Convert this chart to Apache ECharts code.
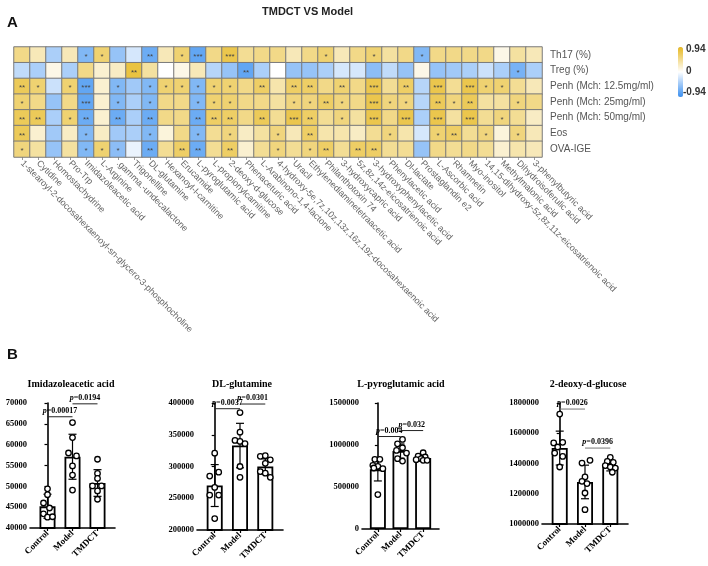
<!DOCTYPE html>
<html>
<head>
<meta charset="utf-8">
<script src="https://cdn.jsdelivr.net/npm/echarts@6/dist/echarts.min.js"></script>
<style>
html, body { margin: 0; padding: 0; background: #fff; }
#main { width: 708px; height: 566px; }
</style>
</head>
<body>
<div id="main"></div>
<script>
// ---- panel A: correlation heatmap ----
var metabolites = ['1-stearoyl-2-docosahexaenoyl-sn-glycero-3-phosphocholine', 'Cytidine', 'Homostachydrine', 'Pro-Trp',
  'Imidazoleacetic acid', 'L-Arginine', '.gamma.-undecalactone', 'Trigonelline', 'DL-glutamine', 'Hexanoyl-l-carnitine',
  'Erucamide', 'L-pyroglutamic acid', 'L-propionylcarnitine', '2-deoxy-d-glucose', 'Phenaceturic acid',
  'L-Arabinono-1,4-lactone', '4-hydroxy-5e,7z,10z,13z,16z,19z-docosahexaenoic acid', 'Uracil',
  'Ethylenediaminetetraacetic acid', 'Philanthotoxin 74', '3-hydroxycapric acid', '5z,8z,14z-eicosatrienoic acid',
  '3-hydroxyphenylacetic acid', 'Phenylacetic acid', 'Dl-lactate', 'Prostaglandin e2', 'L-Ascorbic acid', 'Rhamnetin',
  'Myo-inositol', '14,15-dihydroxy-5z,8z,11z-eicosatrienoic acid', 'Methylmalonic acid', 'Dihydroisoferulic acid',
  '3-phenylbutyric acid'];
var traits = ['Th17 (%)', 'Treg (%)', 'Penh (Mch: 12.5mg/ml)', 'Penh (Mch: 25mg/ml)', 'Penh (Mch: 50mg/ml)', 'Eos', 'OVA-IGE'];

var corr = [
  [0.5, 0.3, -0.4, 0.3, -0.6, 0.6, -0.5, -0.2, -0.7, 0.3, 0.6, -0.75, 0.5, 0.75, 0.45, 0.5, 0.5, 0.3, 0.5, 0.6, 0.3, 0.5, 0.6, 0.4, 0.5, -0.6, 0.5, 0.5, 0.5, 0.5, 0.1, 0.4, 0.3],
  [-0.3, -0.4, 0.1, -0.4, 0.5, 0.2, 0.25, 0.8, 0.4, 0, 0.1, 0.3, -0.35, -0.5, -0.75, -0.4, 0, -0.5, -0.5, -0.4, -0.2, -0.2, -0.55, -0.3, -0.5, 0.1, -0.5, -0.45, -0.4, -0.25, -0.4, -0.65, -0.4],
  [0.7, 0.6, -0.25, 0.6, -0.75, 0.2, -0.6, -0.45, -0.6, 0.6, 0.6, -0.6, 0.6, 0.6, 0.5, 0.65, 0.35, 0.65, 0.65, 0.5, 0.6, 0.5, 0.75, 0.45, 0.65, -0.35, 0.75, 0.45, 0.75, 0.6, 0.6, 0.45, 0.3],
  [0.6, 0.5, -0.5, 0.5, -0.75, 0.2, -0.6, -0.4, -0.6, 0.5, 0.5, -0.6, 0.6, 0.6, 0.5, 0.5, 0.4, 0.55, 0.55, 0.65, 0.55, 0.5, 0.75, 0.55, 0.55, -0.35, 0.7, 0.55, 0.7, 0.4, 0.4, 0.55, 0.5],
  [0.7, 0.7, -0.4, 0.6, -0.7, 0.2, -0.7, -0.4, -0.7, 0.5, 0.5, -0.7, 0.65, 0.65, 0.5, 0.7, 0.45, 0.75, 0.65, 0.45, 0.55, 0.4, 0.75, 0.5, 0.75, -0.4, 0.75, 0.4, 0.75, 0.45, 0.55, 0.45, 0.25],
  [0.7, 0.2, -0.45, 0.25, -0.6, 0.25, -0.45, -0.4, -0.6, 0.15, 0.5, -0.6, 0.45, 0.55, 0.25, 0.4, 0.55, 0.3, 0.65, 0.35, 0.35, 0.25, 0.45, 0.55, 0.35, -0.2, 0.6, 0.65, 0.45, 0.55, 0.15, 0.55, 0.3],
  [0.55, 0.4, -0.5, 0.4, -0.6, 0.6, -0.55, -0.1, -0.7, 0.45, 0.65, -0.7, 0.45, 0.65, 0.2, 0.45, 0.55, 0.45, 0.55, 0.65, 0.45, 0.65, 0.65, 0.45, 0.45, -0.5, 0.5, 0.45, 0.5, 0.45, 0.2, 0.35, 0.3]
];
// number of significance stars per cell
var stars = [
  [0,0,0,0,1,1,0,0,2,0,1,3,0,3,0,0,0,0,0,1,0,0,1,0,0,1,0,0,0,0,0,0,0],
  [0,0,0,0,0,0,0,2,0,0,0,0,0,0,2,0,0,0,0,0,0,0,0,0,0,0,0,0,0,0,0,1,0],
  [2,1,0,1,3,0,1,0,1,1,1,1,1,1,0,2,0,2,2,0,2,0,3,0,2,0,3,0,3,1,1,0,0],
  [1,0,0,0,3,0,1,0,1,0,0,1,1,1,0,0,0,1,1,2,1,0,3,1,1,0,2,1,2,0,0,1,0],
  [2,2,0,1,2,0,2,0,2,0,0,2,2,2,0,2,0,3,2,0,1,0,3,0,3,0,3,0,3,0,1,0,0],
  [2,0,0,0,1,0,0,0,1,0,0,1,0,1,0,0,1,0,2,0,0,0,0,1,0,0,1,2,0,1,0,1,0],
  [1,0,0,0,1,1,1,0,2,0,2,2,0,2,0,0,1,0,1,2,0,2,2,0,0,0,0,0,0,0,0,0,0]
];
var corrRange = [-0.94, 0.94];

// ---- panel B: bar charts ----
var groups = ['Control', 'Model', 'TMDCT'];

var titleImid = 'Imidazoleacetic acid';
var meanImid = [45200, 57100, 50800];
var sdImid = [2900, 5400, 3200];
var ptsImid = [[49400, 48000, 46000, 44800, 43400, 42600, 42700],
               [65300, 61700, 58000, 57300, 54900, 52700, 49100],
               [56500, 53100, 51900, 50100, 50100, 48900, 46900]];
var sigImid = [[0, 1, 66700, '0.00017'], [1, 2, 69800, '0.0194']];
var ticksImid = [40000, 70000, 5000];

var titleGln = 'DL-glutamine';
var meanGln = [270000, 333000, 300000];
var sdGln = [33000, 35000, 12000];
var ptsGln = [[321000, 285000, 291000, 267000, 255000, 255000, 218000],
              [385000, 354000, 341000, 339500, 336000, 300000, 283000],
              [316000, 317000, 310500, 305000, 292000, 289500, 283000]];
var sigGln = [[0, 1, 391000, '0.0037'], [1, 2, 398400, '0.0301']];
var ticksGln = [200000, 400000, 50000];

var titlePyro = 'L-pyroglutamic acid';
var meanPyro = [710000, 928000, 845000];
var sdPyro = [138000, 84000, 30000];
var ptsPyro = [[829000, 829000, 758000, 746000, 718000, 726000, 410000],
               [1066000, 1014000, 967000, 936000, 904000, 837000, 809000],
               [908000, 868000, 857000, 837000, 825000, 817000, 817000]];
var sigPyro = [[0, 1, 1101000, '0.004'], [1, 2, 1172000, '0.032']];
var ticksPyro = [0, 1500000, 500000];

var titleDeoxy = '2-deoxy-d-glucose';
var meanDeoxy = [1502000, 1278000, 1381000];
var sdDeoxy = [112000, 111000, 30000];
var ptsDeoxy = [[1727000, 1536000, 1540000, 1509000, 1469000, 1447000, 1377000],
                [1403000, 1421000, 1311000, 1282000, 1267000, 1205000, 1095000],
                [1441000, 1414000, 1408000, 1386000, 1377000, 1370000, 1342000]];
var sigDeoxy = [[0, 1, 1760000, '0.0026'], [1, 2, 1502000, '0.0396']];
var ticksDeoxy = [1000000, 1800000, 200000];

// horizontal spread of the dots (px), styling only
var jitImid = [[0, 0, -4, 2, -4, 0, 5], [0, 0, -4, 4, 0, 0, 0], [0, 0, 0, -5, 4, 0, 0]];
var jitGln = [[0, -5, 4, 0, -5, 4, 0], [0, 0, -5, 0, 5, 0, 0], [-5, 0, 5, 0, -5, 0, 5]];
var jitPyro = [[-3, 2, -5, 0, 5, -4, 0], [2, -3, 2, -4, 6, -3, 2], [0, -5, 2, -2, -7, 0, 4]];
var jitDeoxy = [[0, -6, 3, -2, -5, 3, 0], [-3, 5, 0, -3, 2, 0, 0], [0, -3, 3, -5, 0, 5, 2]];

var SANS = 'Liberation Sans, Arial, sans-serif';
var SERIF = 'Liberation Serif, Times New Roman, serif';

var panels = [
  {title: titleImid, mean: meanImid, sd: sdImid, pts: ptsImid, sig: sigImid, ticks: ticksImid, jit: jitImid,
   grid: {left: 30, top: 403, width: 85, height: 125}, tx: 71, sigColor: '#222'},
  {title: titleGln, mean: meanGln, sd: sdGln, pts: ptsGln, sig: sigGln, ticks: ticksGln, jit: jitGln,
   grid: {left: 197, top: 403, width: 86, height: 127}, tx: 242, sigColor: '#222'},
  {title: titlePyro, mean: meanPyro, sd: sdPyro, pts: ptsPyro, sig: sigPyro, ticks: ticksPyro, jit: jitPyro,
   grid: {left: 362, top: 403, width: 77, height: 126}, tx: 401, sigColor: '#222'},
  {title: titleDeoxy, mean: meanDeoxy, sd: sdDeoxy, pts: ptsDeoxy, sig: sigDeoxy, ticks: ticksDeoxy, jit: jitDeoxy,
   grid: {left: 542, top: 403, width: 86, height: 121}, tx: 588, sigColor: '#777'}
];

var heatData = [];
corr.forEach(function (row, r) {
  row.forEach(function (v, c) {
    heatData.push([c, r, v, stars[r][c]]);
  });
});

function errRender(params, api) {
  var x = api.value(0), m = api.value(1), s = api.value(2);
  var top = api.coord([x, m + s]);
  var bot = api.coord([x, m - s]);
  var cap = 4;
  var st = {stroke: '#000', lineWidth: 1.2};
  return {
    type: 'group',
    children: [
      {type: 'line', shape: {x1: top[0], y1: top[1], x2: bot[0], y2: bot[1]}, style: st},
      {type: 'line', shape: {x1: top[0] - cap, y1: top[1], x2: top[0] + cap, y2: top[1]}, style: st},
      {type: 'line', shape: {x1: bot[0] - cap, y1: bot[1], x2: bot[0] + cap, y2: bot[1]}, style: st}
    ]
  };
}

function makeSig(sig, color) {
  return function (params, api) {
    var a = api.coord([api.value(0), api.value(2)]);
    var b = api.coord([api.value(1), api.value(2)]);
    var lab = sig[params.dataIndex][3];
    return {
      type: 'group',
      children: [
        {type: 'line', shape: {x1: a[0], y1: a[1], x2: b[0], y2: b[1]}, style: {stroke: color, lineWidth: 1}},
        {type: 'text', style: {
          text: '{i|p}{b|=' + lab + '}',
          x: (a[0] + b[0]) / 2, y: a[1] - 2,
          align: 'center', verticalAlign: 'bottom',
          rich: {
            i: {fontFamily: SERIF, fontStyle: 'italic', fontWeight: 'bold', fontSize: 8, fill: '#000'},
            b: {fontFamily: SERIF, fontWeight: 'bold', fontSize: 8, fill: '#000'}
          }
        }}
      ]
    };
  };
}

var grids = [{left: 14, top: 47, width: 528, height: 110}];
var xAxes = [{
  type: 'category', gridIndex: 0, data: metabolites,
  axisLine: {show: false},
  axisTick: {show: true, length: 3, alignWithLabel: true, lineStyle: {color: '#999'}},
  axisLabel: {rotate: -45, interval: 0, fontSize: 9, color: '#666', margin: 5, fontFamily: SANS},
  splitLine: {show: false}
}];
var yAxes = [{
  type: 'category', gridIndex: 0, data: traits, inverse: true, position: 'right',
  axisLine: {show: false}, axisTick: {show: false},
  axisLabel: {fontSize: 10, color: '#555', margin: 8, fontFamily: SANS}
}];
var series = [{
  type: 'heatmap', xAxisIndex: 0, yAxisIndex: 0, data: heatData,
  itemStyle: {borderColor: '#7a7a7a', borderWidth: 1},
  label: {
    show: true, fontSize: 8, color: '#444', offset: [0, 2], fontFamily: SANS,
    formatter: function (p) { return new Array(p.data[3] + 1).join('*'); }
  },
  emphasis: {disabled: true}
}];
var graphics = [
  {type: 'text', left: 7, top: 15, style: {text: 'A', fontSize: 15, fontWeight: 'bold', fill: '#111', fontFamily: SANS}},
  {type: 'text', left: 7, top: 347, style: {text: 'B', fontSize: 15, fontWeight: 'bold', fill: '#111', fontFamily: SANS}},
  {type: 'text', left: 686, top: 44, style: {text: '0.94', fontSize: 10, fontWeight: 'bold', fill: '#333', fontFamily: SANS}},
  {type: 'text', left: 686, top: 66, style: {text: '0', fontSize: 10, fontWeight: 'bold', fill: '#333', fontFamily: SANS}},
  {type: 'text', left: 683, top: 87, style: {text: '-0.94', fontSize: 10, fontWeight: 'bold', fill: '#333', fontFamily: SANS}}
];

panels.forEach(function (p, k) {
  var gi = k + 1;
  grids.push(p.grid);
  xAxes.push({
    type: 'value', gridIndex: gi, min: -0.7, max: 2.7,
    axisLine: {show: true, lineStyle: {color: '#000', width: 1.6}},
    axisTick: {show: true, length: 3, customValues: [0, 1, 2], lineStyle: {color: '#000', width: 1.2}},
    axisLabel: {
      customValues: [0, 1, 2], rotate: 45, fontSize: 9, fontWeight: 'bold', color: '#000',
      fontFamily: SERIF, margin: 4,
      formatter: function (v) { return groups[Math.round(v)]; }
    },
    splitLine: {show: false}
  });
  yAxes.push({
    type: 'value', gridIndex: gi, min: p.ticks[0], max: p.ticks[1], interval: p.ticks[2],
    axisLine: {show: true, lineStyle: {color: '#000', width: 1.6}},
    axisTick: {show: true, length: 3, lineStyle: {color: '#000', width: 1.2}},
    axisLabel: {fontSize: 8.5, fontWeight: 'bold', color: '#000', fontFamily: SERIF, margin: 3,
                formatter: function (v) { return String(v); }},
    splitLine: {show: false}
  });
  series.push({
    type: 'bar', xAxisIndex: gi, yAxisIndex: gi, barWidth: 16,
    data: p.mean.map(function (m, i) { return [i, m]; }),
    itemStyle: {color: '#fff', borderColor: '#000', borderWidth: 1.8},
    emphasis: {disabled: true}
  });
  series.push({
    type: 'custom', xAxisIndex: gi, yAxisIndex: gi, z: 3,
    data: p.mean.map(function (m, i) { return [i, m, p.sd[i]]; }),
    renderItem: errRender
  });
  var dots = [];
  p.pts.forEach(function (arr, i) {
    arr.forEach(function (v, j) {
      dots.push({value: [i, v], symbolOffset: [p.jit[i][j], 0]});
    });
  });
  series.push({
    type: 'scatter', xAxisIndex: gi, yAxisIndex: gi, z: 4, data: dots,
    symbol: 'circle', symbolSize: 5.5,
    itemStyle: {color: '#fff', borderColor: '#000', borderWidth: 1.3, opacity: 1},
    emphasis: {disabled: true}
  });
  series.push({
    type: 'custom', xAxisIndex: gi, yAxisIndex: gi, z: 5,
    encode: {x: 0, y: 2},
    data: p.sig.map(function (s) { return [s[0], s[1], s[2]]; }),
    renderItem: makeSig(p.sig, p.sigColor)
  });
  graphics.push({
    type: 'text', x: p.tx, y: 384,
    style: {text: p.title, fontSize: 10, fontWeight: 'bold', fill: '#000', fontFamily: SERIF,
            align: 'center', verticalAlign: 'middle'}
  });
});

var chart = echarts.init(document.getElementById('main'), null, {renderer: 'canvas'});
chart.setOption({
  animation: false,
  backgroundColor: '#fff',
  textStyle: {fontFamily: SANS},
  title: {
    text: 'TMDCT VS Model', left: 257, top: 1,
    textStyle: {fontSize: 11, fontWeight: 'bold', color: '#222', fontFamily: SANS}
  },
  grid: grids,
  xAxis: xAxes,
  yAxis: yAxes,
  visualMap: {
    type: 'continuous', seriesIndex: 0, dimension: 2,
    min: corrRange[0], max: corrRange[1], calculable: false,
    left: 678, top: 47, itemWidth: 5, itemHeight: 50, padding: 0,
    inRange: {color: ['#3a8ff0', '#ffffff', '#e6b820']}
  },
  graphic: graphics,
  series: series
});
</script>
</body>
</html>
